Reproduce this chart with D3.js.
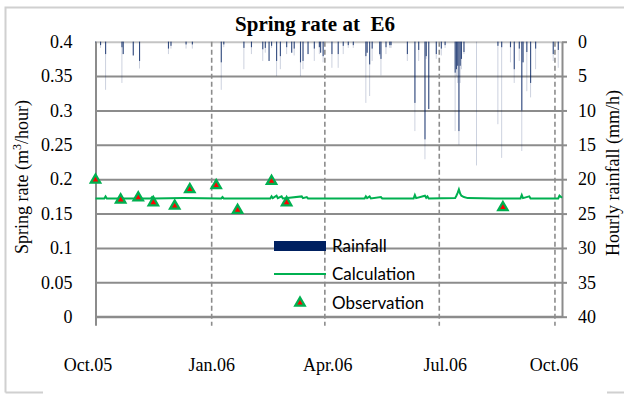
<!DOCTYPE html>
<html>
<head>
<meta charset="utf-8">
<script src="https://cdn.jsdelivr.net/npm/d3@7/dist/d3.min.js"></script>
<style>
  body { margin: 0; background: #fff; }
  svg { display: block; }
  .tick text { font-family: "Liberation Serif", serif; font-size: 18px; fill: #000; }
</style>
</head>
<body>
<svg id="chart" width="624" height="394"></svg>
<script>
// x axis ticks
const monthTicks = ["2005-10-01", "2006-01-01", "2006-04-01", "2006-07-01", "2006-10-01"];
const monthLabels = ["Oct.05", "Jan.06", "Apr.06", "Jul.06", "Oct.06"];
const rateTicks = [0, 0.05, 0.1, 0.15, 0.2, 0.25, 0.3, 0.35, 0.4];
const rainTicks = [0, 5, 10, 15, 20, 25, 30, 35, 40];
const seriesNames = ["Rainfall", "Calculation", "Observation"];

// observed spring rate (m3/hour)
const obsDates = ["2005-10-01", "2005-10-21", "2005-11-04", "2005-11-16", "2005-12-03", "2005-12-15",
  "2006-01-05", "2006-01-22", "2006-02-18", "2006-03-02", "2006-08-21"];
const obsValues = [0.199, 0.170, 0.173, 0.166, 0.161, 0.185, 0.191, 0.155, 0.197, 0.166, 0.159];

// calculated spring rate
const calcDates = ["2005-10-01", "2005-10-08", "2005-10-09", "2005-10-10", "2005-10-20", "2005-10-21", "2005-10-22",
  "2005-11-14", "2005-11-15", "2005-11-16", "2005-12-10", "2006-01-09", "2006-01-10", "2006-01-11",
  "2006-02-17", "2006-02-18", "2006-02-19", "2006-02-22", "2006-02-23", "2006-02-26", "2006-02-27",
  "2006-03-14", "2006-03-15", "2006-03-18", "2006-03-19", "2006-05-03", "2006-05-04", "2006-05-05",
  "2006-05-07", "2006-05-08", "2006-05-16", "2006-05-17", "2006-06-11", "2006-06-12", "2006-06-13",
  "2006-06-20", "2006-06-21", "2006-06-22", "2006-06-23", "2006-07-14", "2006-07-15", "2006-07-16",
  "2006-07-17", "2006-07-18", "2006-07-19", "2006-07-21", "2006-07-24", "2006-08-15", "2006-09-04",
  "2006-09-05", "2006-09-06", "2006-09-11", "2006-09-12", "2006-10-04", "2006-10-05", "2006-10-07"];
const calcValues = [0.172, 0.172, 0.175, 0.172, 0.172, 0.175, 0.172,
  0.172, 0.174, 0.172, 0.1725, 0.172, 0.174, 0.172,
  0.172, 0.175, 0.1725, 0.176, 0.1725, 0.175, 0.172,
  0.175, 0.1725, 0.174, 0.172, 0.172, 0.175, 0.1725,
  0.175, 0.172, 0.174, 0.172, 0.172, 0.177, 0.1725,
  0.176, 0.173, 0.175, 0.172, 0.1725, 0.176, 0.180,
  0.185, 0.179, 0.176, 0.174, 0.1725, 0.172, 0.172,
  0.177, 0.1725, 0.175, 0.172, 0.172, 0.176, 0.173];

// hourly rainfall (mm/h): peak hour of each rain day and its usual heavy hours
const rainDays = ["2005-10-01", "2005-10-05", "2005-10-09", "2005-10-22", "2005-10-23", "2005-10-31", "2005-11-05",
  "2005-11-28", "2005-11-30", "2005-12-12", "2005-12-17", "2006-01-09", "2006-01-11", "2006-01-27",
  "2006-02-02", "2006-02-11", "2006-02-13", "2006-02-16", "2006-02-18", "2006-02-22", "2006-02-25",
  "2006-03-02", "2006-03-06", "2006-03-08", "2006-03-13", "2006-03-15", "2006-03-19", "2006-03-24",
  "2006-03-28", "2006-03-29", "2006-03-31", "2006-04-07", "2006-04-12", "2006-04-16", "2006-04-20",
  "2006-04-24", "2006-05-04", "2006-05-05", "2006-05-07", "2006-05-09", "2006-05-15", "2006-05-16",
  "2006-05-20", "2006-05-23", "2006-05-24", "2006-06-06", "2006-06-12", "2006-06-15", "2006-06-20",
  "2006-06-21", "2006-06-23", "2006-06-29", "2006-07-03", "2006-07-06", "2006-07-14", "2006-07-15",
  "2006-07-16", "2006-07-17", "2006-07-18", "2006-07-19", "2006-07-21", "2006-07-31", "2006-08-17",
  "2006-08-20", "2006-08-27", "2006-08-30", "2006-09-03", "2006-09-05", "2006-09-06", "2006-09-09",
  "2006-09-12", "2006-09-16", "2006-09-30", "2006-10-04"];
const rainPeak = [3.0, 0.9, 7.0, 6.0, 1.8, 2.0, 3.9,
  1.8, 1.0, 1.0, 1.0, 7.0, 0.8, 4.0,
  1.8, 2.8, 1.6, 2.8, 0.9, 5.0, 4.0,
  1.8, 1.6, 2.0, 5.0, 4.0, 1.8, 2.8,
  1.8, 1.6, 3.0, 3.8, 3.8, 1.8, 0.9,
  0.9, 8.9, 1.6, 7.9, 2.8, 2.0, 4.9,
  1.8, 0.9, 0.9, 2.8, 13.0, 2.8, 17.1,
  2.5, 9.8, 2.5, 2.0, 0.9, 13.0, 5.0,
  6.0, 15.0, 6.0, 4.0, 1.8, 18.0, 12.0,
  16.9, 3.0, 6.0, 2.8, 15.9, 3.0, 7.2,
  8.1, 4.0, 2.8, 3.8];
const rainHeavy = [1.3, 0.5, 1.8, 0.8, 1.8, 2.0, 2.8,
  1.0, 0.6, 0.4, 0.4, 3.0, 0.4, 0.9,
  0.8, 1.1, 0.9, 2.8, 0.6, 2.8, 2.1,
  0.8, 1.6, 1.0, 3.0, 2.8, 1.8, 1.0,
  0.8, 1.6, 2.1, 1.8, 1.8, 0.6, 0.5,
  0.5, 2.1, 1.6, 3.3, 1.0, 1.8, 2.5,
  0.8, 0.5, 0.5, 1.8, 8.9, 1.2, 14.2,
  2.1, 9.8, 1.8, 1.0, 0.5, 4.5, 4.0,
  3.5, 13.0, 3.5, 2.5, 1.5, 0, 0.6,
  0.8, 0.8, 4.0, 1.0, 10.0, 3.0, 1.5,
  6.0, 1.0, 1.8, 1.2];

const parse = d3.utcParse("%Y-%m-%d");
const margin = { top: 41.7, right: 62, bottom: 77.3, left: 95.5 };
const width = 624, height = 394;
const plotW = width - margin.left - margin.right;
const plotH = height - margin.top - margin.bottom;
const navy = "#002060";
const green = "#00b050";
const gridColor = "#8c8c8c";
// small horizontal nudges of the month labels, as Excel placed them
const labelNudge = [-8, 0, 3, 6, -1];

const svg = d3.select("#chart");

// outer frame (partly clipped, as in the original export)
svg.append("path")
  .attr("d", "M5.5,392.5 V7.5 H624 M5.5,392.5 H43 M607,392.5 H624")
  .attr("fill", "none")
  .attr("stroke", "#d0d0d0")
  .attr("stroke-width", 2);

const x = d3.scaleUtc()
  .domain([parse("2005-10-01"), parse("2006-10-07")])
  .range([0, plotW]);
const y = d3.scaleLinear().domain([0, 0.4]).range([plotH, 0]);
const yRain = d3.scaleLinear().domain([0, 40]).range([0, plotH]);

const g = svg.append("g").attr("transform", `translate(${margin.left},${margin.top})`);

// horizontal grid
const grid = g.append("g")
  .call(d3.axisLeft(y).tickValues(rateTicks).tickSize(-plotW).tickFormat(""));
grid.select(".domain").remove();
grid.selectAll("line")
  .attr("stroke", d => d === 0.4 ? "#c4c4c4" : gridColor)
  .attr("stroke-width", 2);

// vertical dashed grid and x ticks
const vgrid = g.append("g")
  .call(d3.axisBottom(x).tickValues(monthTicks.map(parse)).tickSize(plotH + 9).tickFormat(""));
vgrid.select(".domain").remove();
vgrid.selectAll("line")
  .attr("stroke", gridColor)
  .attr("stroke-width", (d, i) => i === 0 ? 2 : 1.6)
  .attr("stroke-dasharray", (d, i) => i === 0 ? null : "5,3");

// rainfall bars hanging from the top
const rainData = rainDays.map((d, i) => ({ date: parse(d), peak: rainPeak[i], heavy: rainHeavy[i] }));
const rain = g.append("g");
rain.selectAll(".peak")
  .data(rainData)
  .enter()
  .append("rect")
  .attr("class", "peak")
  .attr("x", d => x(d.date) - 0.5)
  .attr("y", 0)
  .attr("width", 1)
  .attr("height", d => yRain(d.peak))
  .attr("fill", navy)
  .attr("opacity", 0.2);
rain.selectAll(".heavy")
  .data(rainData)
  .enter()
  .append("rect")
  .attr("class", "heavy")
  .attr("x", d => x(d.date) - 0.5)
  .attr("y", 0)
  .attr("width", 1.1)
  .attr("height", d => yRain(d.heavy))
  .attr("fill", navy)
  .attr("opacity", 0.75);

// axes lines
g.append("line")
  .attr("x1", 0).attr("x2", plotW).attr("y1", plotH).attr("y2", plotH)
  .attr("stroke", gridColor).attr("stroke-width", 2);

const yAxis = g.append("g")
  .call(d3.axisLeft(y).tickValues(rateTicks).tickSize(0).tickPadding(23)
    .tickFormat(d => d3.format("")(+d.toFixed(2))));
yAxis.select(".domain").attr("stroke", gridColor).attr("stroke-width", 2);

const yAxisR = g.append("g")
  .attr("transform", `translate(${plotW},0)`)
  .call(d3.axisRight(yRain).tickValues(rainTicks).tickSize(5).tickPadding(11).tickSizeOuter(0));
yAxisR.select(".domain").attr("stroke", gridColor).attr("stroke-width", 2);
yAxisR.selectAll(".tick line").attr("stroke", gridColor).attr("stroke-width", 2);

const xAxis = g.append("g")
  .attr("transform", `translate(0,${plotH})`)
  .call(d3.axisBottom(x).tickValues(monthTicks.map(parse)).tickSize(0).tickPadding(42)
    .tickFormat((d, i) => monthLabels[i]));
xAxis.select(".domain").remove();
xAxis.selectAll(".tick text").attr("dx", (d, i) => labelNudge[i]);

// calculated line
const calcData = calcDates.map((d, i) => ({ date: parse(d), value: calcValues[i] }));
g.append("path")
  .datum(calcData)
  .attr("fill", "none")
  .attr("stroke", green)
  .attr("stroke-width", 2)
  .attr("d", d3.line().x(d => x(d.date)).y(d => y(d.value)));

// observations
const tri = d3.symbol().type(d3.symbolTriangle).size(38);
const obsData = obsDates.map((d, i) => ({ date: parse(d), value: obsValues[i] }));
g.selectAll(".obs")
  .data(obsData)
  .enter()
  .append("path")
  .attr("class", "obs")
  .attr("transform", d => `translate(${x(d.date)},${y(d.value)})`)
  .attr("d", tri)
  .attr("fill", "#ff0000")
  .attr("stroke", green)
  .attr("stroke-width", 2.3);

// title
svg.append("text")
  .attr("x", 315).attr("y", 30.5)
  .attr("text-anchor", "middle")
  .attr("font-family", "Liberation Serif, serif")
  .attr("font-weight", "bold")
  .attr("font-size", 21)
  .style("white-space", "pre")
  .text("Spring rate at  E6");

// axis titles
const yTitle = svg.append("text")
  .attr("transform", "translate(28,177) rotate(-90)")
  .attr("text-anchor", "middle")
  .attr("font-family", "Liberation Serif, serif")
  .attr("font-size", 18);
yTitle.append("tspan").text("Spring rate (m");
yTitle.append("tspan").attr("baseline-shift", "super").attr("font-size", 12).text("3");
yTitle.append("tspan").text("/hour)");

svg.append("text")
  .attr("transform", "translate(619,173) rotate(-90)")
  .attr("text-anchor", "middle")
  .attr("font-family", "Liberation Serif, serif")
  .attr("font-size", 18)
  .text("Hourly rainfall (mm/h)");

// legend
const legend = svg.append("g").attr("transform", "translate(274,246)");
legend.append("rect")
  .attr("x", 0).attr("y", -5).attr("width", 52).attr("height", 10)
  .attr("fill", navy);
legend.append("line")
  .attr("x1", 0).attr("x2", 52).attr("y1", 28).attr("y2", 28)
  .attr("stroke", green).attr("stroke-width", 2);
legend.append("path")
  .attr("transform", "translate(26,57)")
  .attr("d", tri)
  .attr("fill", "#ff0000")
  .attr("stroke", green)
  .attr("stroke-width", 2.3);
legend.selectAll(".lbl")
  .data(seriesNames)
  .enter()
  .append("text")
  .attr("class", "lbl")
  .attr("x", 58)
  .attr("y", (d, i) => 5.5 + i * 28.5)
  .attr("font-family", "Lato, sans-serif")
  .attr("font-size", 17)
  .text(d => d);
</script>
</body>
</html>
